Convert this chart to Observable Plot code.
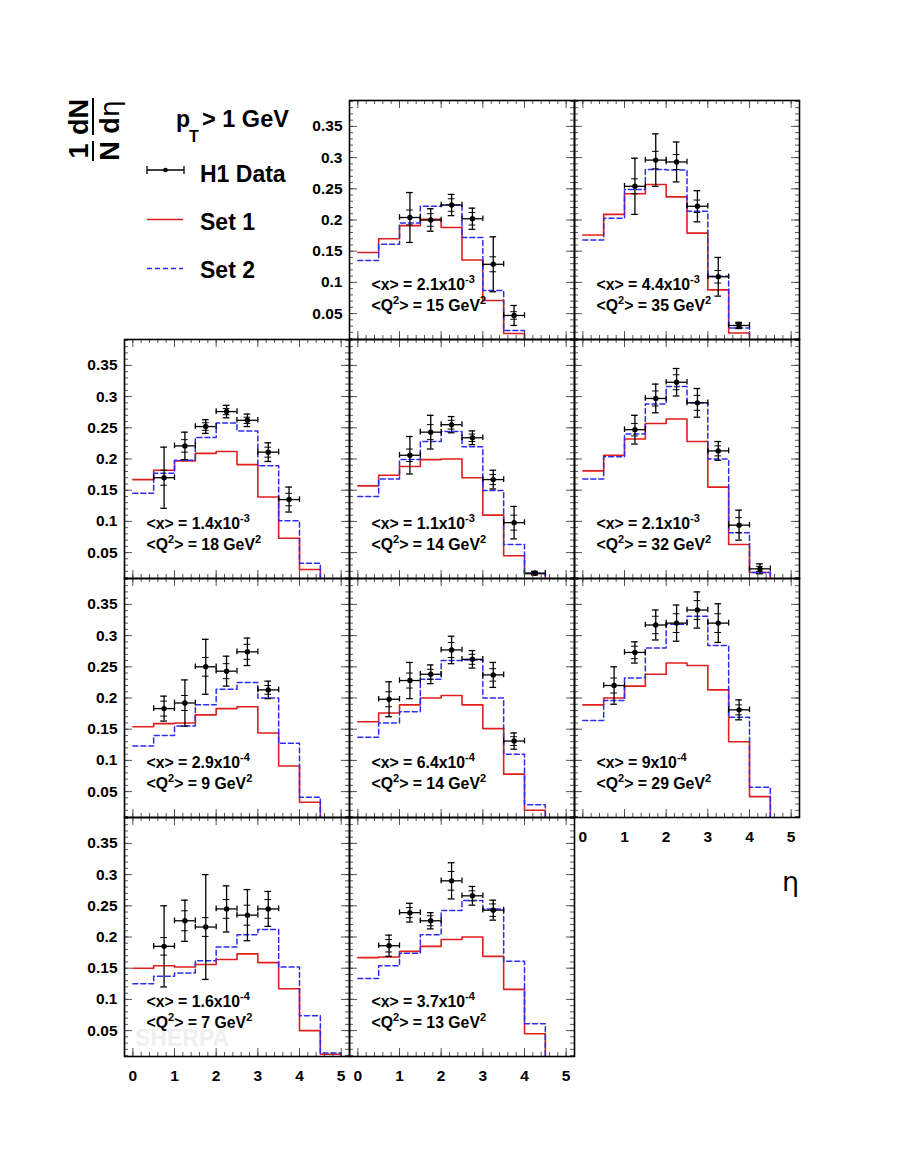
<!DOCTYPE html>
<html><head><meta charset="utf-8">
<script src="https://cdn.jsdelivr.net/npm/d3@7"></script>
<script src="https://cdn.jsdelivr.net/npm/@observablehq/plot@0.6"></script>
<style>
body{margin:0;background:#fff;}
#fig{position:relative;width:899px;height:1163px;background:#fff;overflow:hidden;}
#fig svg{position:absolute;}
</style></head><body><div id="fig"></div>
<script>
// ---------------- data ----------------
const binEdges = [0,0.5,1,1.5,2,2.5,3,3.5,4,4.5,5];
const panelRow = [0,0,1,1,1,2,2,2,3,3];
const panelCol = [1,2,0,1,2,0,1,2,0,1];
const xMeanMantissa = ["2.1","4.4","1.4","1.1","2.1","2.9","6.4","9","1.6","3.7"];
const xMeanExponent = ["-3","-3","-3","-3","-3","-4","-4","-4","-4","-4"];
const q2Mean = [15,35,18,14,32,9,14,29,7,13];

// Set 1 (red, solid) histogram, bins of 0.5 in eta starting at 0
const set1 = [
  [0.148,0.170,0.191,0.201,0.188,0.136,0.071,0.018],
  [0.176,0.209,0.242,0.257,0.237,0.179,0.088,0.019],
  [0.167,0.182,0.197,0.209,0.212,0.191,0.139,0.073,0.023],
  [0.157,0.174,0.188,0.199,0.200,0.170,0.110,0.045,0.016],
  [0.181,0.206,0.232,0.257,0.264,0.228,0.155,0.063,0.018],
  [0.154,0.159,0.160,0.173,0.183,0.186,0.144,0.091,0.033],
  [0.162,0.176,0.189,0.200,0.204,0.189,0.151,0.078,0.020],
  [0.189,0.200,0.219,0.238,0.256,0.252,0.213,0.130,0.042],
  [0.150,0.154,0.152,0.156,0.164,0.173,0.159,0.117,0.050,0.012],
  [0.167,0.168,0.177,0.185,0.196,0.200,0.169,0.116,0.045]
];
// Set 2 (blue, dashed) histogram
const set2 = [
  [0.135,0.161,0.195,0.222,0.224,0.172,0.087,0.023],
  [0.168,0.203,0.249,0.281,0.280,0.214,0.110,0.027],
  [0.145,0.177,0.198,0.2345,0.2575,0.245,0.189,0.101,0.033],
  [0.140,0.168,0.199,0.228,0.244,0.2195,0.1495,0.063,0.017],
  [0.168,0.2035,0.240,0.288,0.316,0.290,0.200,0.082,0.018],
  [0.123,0.140,0.155,0.189,0.214,0.225,0.200,0.1275,0.041],
  [0.137,0.160,0.178,0.230,0.260,0.261,0.200,0.110,0.029],
  [0.164,0.196,0.232,0.280,0.318,0.331,0.284,0.169,0.057],
  [0.125,0.137,0.1425,0.162,0.184,0.2035,0.212,0.152,0.074,0.014],
  [0.1334,0.154,0.174,0.2035,0.2425,0.2586,0.245,0.161,0.061]
];
// H1 data
const dataEta = [
  [1.25,1.75,2.25,2.75,3.25,3.75],
  [1.25,1.75,2.25,2.75,3.25,3.75],
  [0.75,1.25,1.75,2.25,2.75,3.25,3.75],
  [1.25,1.75,2.25,2.75,3.25,3.75,4.25],
  [1.25,1.75,2.25,2.75,3.25,3.75,4.25],
  [0.75,1.25,1.75,2.25,2.75,3.25],
  [0.75,1.25,1.75,2.25,2.75,3.25,3.75],
  [0.75,1.25,1.75,2.25,2.75,3.25,3.75],
  [0.75,1.25,1.75,2.25,2.75,3.25],
  [0.75,1.25,1.75,2.25,2.75,3.25]
];
const dataValue = [
  [0.204,0.200,0.224,0.202,0.129,0.047],
  [0.254,0.296,0.293,0.222,0.109,0.031],
  [0.170,0.221,0.252,0.276,0.262,0.211,0.135],
  [0.206,0.243,0.255,0.234,0.167,0.098,0.017],
  [0.247,0.297,0.323,0.290,0.213,0.094,0.024],
  [0.183,0.192,0.250,0.243,0.274,0.213],
  [0.198,0.228,0.238,0.277,0.262,0.237,0.131],
  [0.220,0.273,0.317,0.320,0.341,0.320,0.181],
  [0.185,0.226,0.216,0.245,0.235,0.245],
  [0.186,0.239,0.226,0.290,0.266,0.243]
];
const dataTotalErr = [
  [0.040,0.018,0.017,0.017,0.044,0.016],
  [0.045,0.042,0.032,0.025,0.031,0.005],
  [0.049,0.022,0.011,0.010,0.010,0.015,0.020],
  [0.030,0.027,0.013,0.011,0.015,0.026,0.003],
  [0.023,0.023,0.022,0.023,0.015,0.024,0.008],
  [0.020,0.037,0.044,0.024,0.022,0.014],
  [0.028,0.029,0.015,0.022,0.014,0.020,0.013],
  [0.030,0.017,0.024,0.029,0.029,0.031,0.016],
  [0.065,0.033,0.084,0.037,0.041,0.028],
  [0.017,0.015,0.013,0.029,0.015,0.016]
];
const dataStatErr = [
  [0.012,0.010,0.010,0.010,0.012,0.006],
  [0.012,0.014,0.012,0.010,0.010,0.003],
  [0.012,0.010,0.006,0.005,0.005,0.008,0.010],
  [0.010,0.012,0.007,0.006,0.008,0.012,0.002],
  [0.010,0.012,0.012,0.012,0.008,0.012,0.004],
  [0.012,0.012,0.015,0.012,0.012,0.007],
  [0.012,0.012,0.008,0.012,0.008,0.010,0.007],
  [0.012,0.010,0.014,0.015,0.015,0.015,0.008],
  [0.014,0.016,0.015,0.015,0.016,0.015],
  [0.010,0.008,0.008,0.015,0.008,0.010]
];
const yTickLabels = [0.05,0.1,0.15,0.2,0.25,0.3,0.35];
const xTickLabels = [0,1,2,3,4,5];
const yMinorTicks = d3.range(1,40).map(k => k/100);
const xMinorTicks = d3.range(-1,27).map(k => k/5);

// ---------------- layout ----------------
const FONT = "'Liberation Sans', Arial, Helvetica, sans-serif";
const RED = "#e01e1e", BLUE = "#2c2cf2";
const X0 = 124, Y0 = 100, W = 225, H = 239;
const fig = d3.select("#fig");

// legend / labels overlay (behind the panels)
const ov = fig.append("svg").attr("width", 899).attr("height", 1163)
  .style("left", "0px").style("top", "0px")
  .attr("font-family", FONT).attr("font-weight", "bold").attr("text-anchor", "start");

// SHERPA watermark
ov.append("text").attr("x", 135).attr("y", 1046).attr("font-size", 23).attr("fill", "#efefef").text("SHERPA");

// rotated 1/N dN/deta
const lab = ov.append("g").attr("transform", "translate(93,162) rotate(-90)").attr("font-size", 27);
lab.append("text").attr("x", 11).attr("y", -5).attr("text-anchor", "middle").text("1");
lab.append("line").attr("x1", 1).attr("x2", 21).attr("y1", 0).attr("y2", 0).attr("stroke", "black").attr("stroke-width", 2);
lab.append("text").attr("x", 11).attr("y", 26).attr("text-anchor", "middle").text("N");
lab.append("text").attr("x", 45).attr("y", -5).attr("text-anchor", "middle").text("dN");
lab.append("line").attr("x1", 27).attr("x2", 64).attr("y1", 0).attr("y2", 0).attr("stroke", "black").attr("stroke-width", 2);
const deta = lab.append("text").attr("x", 45).attr("y", 26).attr("text-anchor", "middle");
deta.append("tspan").text("d");
deta.append("tspan").attr("font-weight", "normal").attr("font-family", "'DejaVu Sans', sans-serif").text("η");

// p_T > 1 GeV
ov.append("text").attr("x", 176).attr("y", 127).attr("font-size", 23).text("p");
ov.append("text").attr("x", 189).attr("y", 141.5).attr("font-size", 16).text("T");
ov.append("text").attr("x", 202).attr("y", 127).attr("font-size", 23.5).text("> 1 GeV");

// legend entries
const lg = ov.append("g").attr("font-size", 23);
lg.append("line").attr("x1", 147).attr("x2", 184).attr("y1", 170).attr("y2", 170).attr("stroke", "black").attr("stroke-width", 1.3);
lg.append("line").attr("x1", 147).attr("x2", 147).attr("y1", 166).attr("y2", 174).attr("stroke", "black").attr("stroke-width", 1.3);
lg.append("line").attr("x1", 184).attr("x2", 184).attr("y1", 166).attr("y2", 174).attr("stroke", "black").attr("stroke-width", 1.3);
lg.append("circle").attr("cx", 165.5).attr("cy", 170).attr("r", 2.3).attr("fill", "black");
lg.append("text").attr("x", 200).attr("y", 182).text("H1 Data");
lg.append("line").attr("x1", 147).attr("x2", 183).attr("y1", 219.5).attr("y2", 219.5).attr("stroke", RED).attr("stroke-width", 1.6);
lg.append("text").attr("x", 200).attr("y", 230).text("Set 1");
lg.append("line").attr("x1", 147).attr("x2", 183).attr("y1", 268.5).attr("y2", 268.5).attr("stroke", BLUE).attr("stroke-width", 1.5).attr("stroke-dasharray", "5,3");
lg.append("text").attr("x", 200).attr("y", 278).text("Set 2");

// eta axis title
ov.append("text").attr("x", 799).attr("y", 891).attr("text-anchor", "end")
  .attr("font-family", "'DejaVu Sans', sans-serif").attr("font-weight", "normal").attr("font-size", 27).text("η");

function steps(vals) {
  const pts = [];
  vals.forEach((v, i) => { pts.push({x: binEdges[i], y: v}, {x: binEdges[i + 1], y: v}); });
  pts.push({x: binEdges[vals.length], y: 0});
  return pts;
}
const fmtY = d => String(+d.toFixed(2));

panelRow.forEach((r, i) => {
  const c = panelCol[i];
  const showY = c === 0 || i === 0;
  const showX = r === 3 || (r === 2 && c === 2);
  const mL = showY ? 60 : 4, mR = 4, mT = 4, mB = showX ? 34 : 4;
  const pts = dataEta[i].map((e, j) => ({eta: e, v: dataValue[i][j], tot: dataTotalErr[i][j], stat: dataStatErr[i][j]}));
  const capW = 0.08, capH = 0.0045;
  const eb = {stroke: "black", strokeWidth: 1.3};
  const tk = {stroke: "#444", strokeWidth: 0.9};
  const marks = [
    Plot.line(steps(set1[i]), {x: "x", y: "y", stroke: RED, strokeWidth: 1.6, clip: true}),
    Plot.line(steps(set2[i]), {x: "x", y: "y", stroke: BLUE, strokeWidth: 1.5, strokeDasharray: "5,3", clip: true}),
    Plot.ruleX(pts, {x: "eta", y1: d => d.v - d.tot, y2: d => d.v + d.tot, ...eb}),
    Plot.ruleY(pts, {y: "v", x1: d => d.eta - 0.25, x2: d => d.eta + 0.25, ...eb}),
    Plot.ruleY(pts, {y: d => d.v + d.tot, x1: d => d.eta - capW, x2: d => d.eta + capW, ...eb}),
    Plot.ruleY(pts, {y: d => d.v - d.tot, x1: d => d.eta - capW, x2: d => d.eta + capW, ...eb}),
    Plot.ruleY(pts, {y: d => d.v + d.stat, x1: d => d.eta - capW, x2: d => d.eta + capW, stroke: "black", strokeWidth: 1}),
    Plot.ruleY(pts, {y: d => d.v - d.stat, x1: d => d.eta - capW, x2: d => d.eta + capW, stroke: "black", strokeWidth: 1}),
    Plot.ruleX(pts, {x: d => d.eta - 0.25, y1: d => d.v - capH, y2: d => d.v + capH, ...eb}),
    Plot.ruleX(pts, {x: d => d.eta + 0.25, y1: d => d.v - capH, y2: d => d.v + capH, ...eb}),
    Plot.dot(pts, {x: "eta", y: "v", r: 2.7, fill: "black", stroke: "none"}),
    Plot.tickY(yMinorTicks, {y: d => d, insetRight: W - 4, ...tk}),
    Plot.tickY(yTickLabels, {y: d => d, insetRight: W - 8, ...tk}),
    Plot.tickY(yMinorTicks, {y: d => d, insetLeft: W - 4, ...tk}),
    Plot.tickY(yTickLabels, {y: d => d, insetLeft: W - 8, ...tk}),
    Plot.tickX(xMinorTicks, {x: d => d, insetTop: H - 4, ...tk}),
    Plot.tickX(xTickLabels, {x: d => d, insetTop: H - 8, ...tk}),
    Plot.tickX(xMinorTicks, {x: d => d, insetBottom: H - 4, ...tk}),
    Plot.tickX(xTickLabels, {x: d => d, insetBottom: H - 8, ...tk}),
    Plot.frame({stroke: "black", strokeWidth: 1.6})
  ];
  if (showY) marks.push(Plot.axisY({ticks: yTickLabels, anchor: "left", tickSize: 0, tickPadding: 7, tickFormat: fmtY, label: null, fontSize: 15.5}));
  if (showX) marks.push(Plot.axisX({ticks: xTickLabels, anchor: "bottom", tickSize: 0, tickPadding: 13, tickFormat: d => String(d), label: null, fontSize: 15.5}));
  const svg = Plot.plot({
    width: W + mL + mR, height: H + mT + mB,
    marginLeft: mL, marginRight: mR, marginTop: mT, marginBottom: mB,
    x: {domain: [-0.2, 5.2], axis: null},
    y: {domain: [0.0085, 0.3915], axis: null},
    style: {background: "transparent", fontFamily: FONT, fontWeight: "bold", fontSize: "15px", color: "black", overflow: "visible"},
    marks
  });
  svg.style.position = "absolute";
  svg.style.left = (X0 + c * W - mL) + "px";
  svg.style.top = (Y0 + r * H - mT) + "px";
  svg.style.maxWidth = "none";
  const s = d3.select(svg);
  const g = s.append("g").attr("font-family", FONT).attr("font-weight", "bold").attr("font-size", 15.8)
    .attr("fill", "black").attr("text-anchor", "start");
  const t1 = g.append("text").attr("x", mL + 22.5).attr("y", mT + 190);
  t1.append("tspan").text(`<x> = ${xMeanMantissa[i]}x10`);
  t1.append("tspan").attr("dy", -7).attr("font-size", 11).text(xMeanExponent[i]);
  const t2 = g.append("text").attr("x", mL + 22.5).attr("y", mT + 211);
  t2.append("tspan").text("<Q");
  t2.append("tspan").attr("dy", -7).attr("font-size", 11).text("2");
  t2.append("tspan").attr("dy", 7).text(`> = ${q2Mean[i]} GeV`);
  t2.append("tspan").attr("dy", -7).attr("font-size", 11).text("2");
  fig.node().appendChild(svg);
});
</script></body></html>
